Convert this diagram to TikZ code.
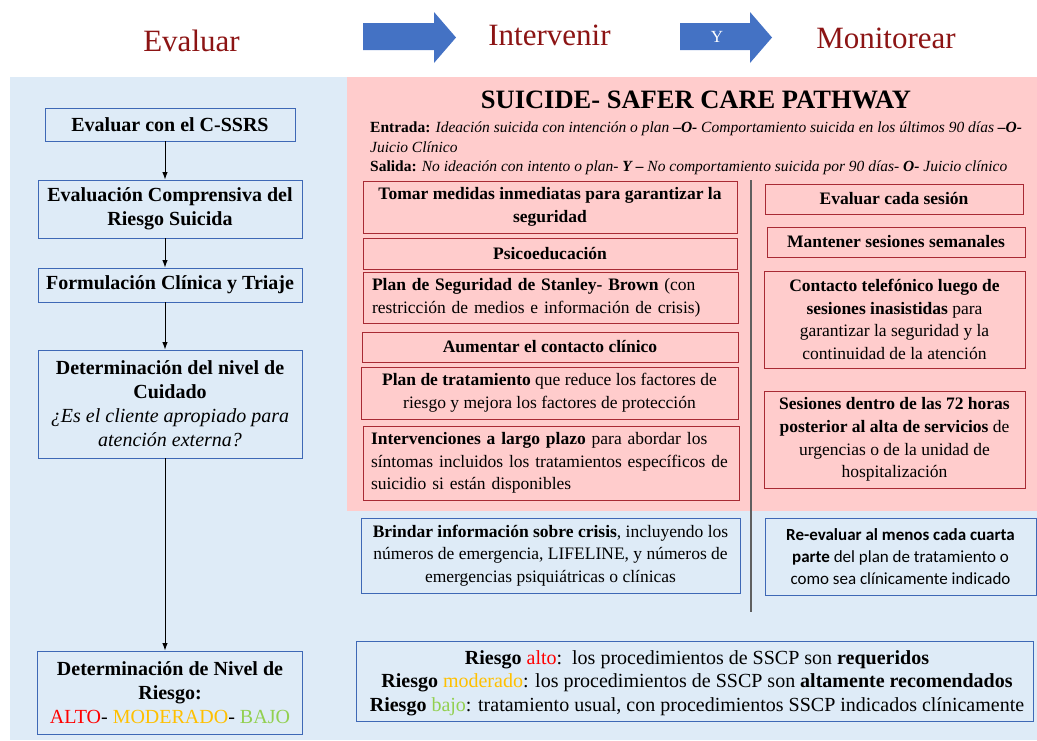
\documentclass[tikz,border=0pt]{standalone}
\usepackage{fontspec}
\setmainfont{Liberation Serif}
\newfontfamily\calibrifont{Carlito}
\usetikzlibrary{arrows.meta}
\definecolor{bgblue}{RGB}{222,235,247}
\definecolor{bgpink}{RGB}{255,204,204}
\definecolor{boxblue}{RGB}{62,104,182}
\definecolor{boxred}{RGB}{168,42,52}
\definecolor{headred}{RGB}{140,20,20}
\definecolor{arrowblue}{RGB}{68,114,196}
\definecolor{altored}{RGB}{255,0,0}
\definecolor{modgold}{RGB}{255,192,0}
\definecolor{bajogreen}{RGB}{146,208,80}
\definecolor{divgray}{RGB}{95,95,95}

\begin{document}
\begin{tikzpicture}[x=1pt,y=-1pt,
  headtext/.style={font=\fontsize{31}{36}\selectfont, text=headred, inner sep=0pt},
  leftbox/.style={draw=boxblue, fill=bgblue, line width=0.9pt, align=center, inner sep=0pt,
    font=\fontsize{20}{24}\selectfont},
  pinkbox/.style={draw=boxred, fill=bgpink, line width=0.9pt, align=center, inner sep=0pt,
    font=\fontsize{17.5}{22.7}\selectfont},
  bluebox/.style={draw=boxblue, fill=bgblue, line width=0.9pt, align=center, inner sep=0pt,
    font=\fontsize{17.5}{22.5}\selectfont},
  flow/.style={-{Latex[length=7.5pt,width=5.5pt]}, line width=1pt}]
\useasboundingbox (0,0) rectangle (1037,740);
% fondos
\fill [bgblue] (10,77) rectangle (1037,740);
\fill [bgpink] (347,77) rectangle (1037,511);
% encabezado
\node [headtext] (evalhead) at (191.5,41) {Evaluar};
\node [headtext] (intervhead) at (549.5,35) {Intervenir};
\node [headtext] (monhead) at (886,38) {Monitorear};
\fill [arrowblue] (363,23) -- (434,23) -- (434,12) -- (456,37.5) -- (434,63) -- (434,50) -- (363,50) -- cycle;
\fill [arrowblue] (680,23) -- (750,23) -- (750,12) -- (772,37.5) -- (750,63) -- (750,50) -- (680,50) -- cycle;
\node [text=white, font=\fontsize{17}{20}\selectfont, inner sep=0pt] (ytext) at (717,37) {Y};
% titulo
\node [font=\bfseries\fontsize{26.5}{30}\selectfont, inner sep=0pt] (title) at (696,100) {SUICIDE- SAFER CARE PATHWAY};
\node [anchor=north west, align=left, inner sep=0pt, font=\fontsize{15.5}{19.5}\selectfont] (entrada) at (370,122)
  {\textbf{Entrada:} \textit{Ideación suicida con intención o plan \textbf{–O-} Comportamiento suicida en los últimos 90 días \textbf{–O-}}\\
   \textit{Juicio Clínico}\\
   \textbf{Salida:} \textit{No ideación con intento o plan- \textbf{Y –} No comportamiento suicida por 90 días- \textbf{O-} Juicio clínico}};
% columna evaluar
\node [leftbox, minimum width=250pt, minimum height=33pt] (cssrs) at (170,124.5) {\textbf{Evaluar con el C-SSRS}};
\node [leftbox, minimum width=264pt, minimum height=58pt] (comp) at (170,209) {\textbf{Evaluación Comprensiva del}\\ \textbf{Riesgo Suicida}};
\node [leftbox, minimum width=264pt, minimum height=34pt] (triaje) at (170,285) {\textbf{Formulación Clínica y Triaje}};
\node [leftbox, minimum width=264pt, minimum height=108pt] (cuidado) at (170,404)
  {\textbf{Determinación del nivel de}\\ \textbf{Cuidado}\\ \textit{¿Es el cliente apropiado para}\\ \textit{atención externa?}};
\node [leftbox, minimum width=265pt, minimum height=83pt] (riesgo) at (170,692.5)
  {\textbf{Determinación de Nivel de}\\ \textbf{Riesgo:}\\ \textcolor{altored}{ALTO}- \textcolor{modgold}{MODERADO}- \textcolor{bajogreen}{BAJO}};
\draw [flow] ([xshift=-5pt]cssrs.south) -- ([xshift=-5pt]comp.north);
\draw [flow] ([xshift=-5pt]comp.south) -- ([xshift=-5pt]triaje.north);
\draw [flow] ([xshift=-5pt]triaje.south) -- ([xshift=-5pt]cuidado.north);
\draw [flow] ([xshift=-5pt]cuidado.south) -- ([xshift=-5pt]riesgo.north);
% columna intervenir
\node [pinkbox, minimum width=374pt, minimum height=52pt] (seguridad) at (550,207) {\textbf{Tomar medidas inmediatas para garantizar la}\\ \textbf{seguridad}};
\node [pinkbox, minimum width=374pt, minimum height=31pt] (psico) at (550,253.5) {\textbf{Psicoeducación}};
\node [pinkbox, minimum width=375pt, minimum height=51pt, text width=357pt, align=left] (stanley) at (550.5,297.5)
  {\textbf{Plan de Seguridad de Stanley- Brown} (con\\ restricción de medios e información de crisis)};
\node [pinkbox, minimum width=376pt, minimum height=30pt] (contacto) at (550,347) {\textbf{Aumentar el contacto clínico}};
\node [pinkbox, minimum width=377pt, minimum height=52pt] (tratamiento) at (549.5,393)
  {\textbf{Plan de tratamiento} que reduce los factores de\\ riesgo y mejora los factores de protección};
\node [pinkbox, minimum width=376pt, minimum height=74pt, text width=360pt, align=left] (largo) at (551,463)
  {\textbf{Intervenciones a largo plazo} para abordar los\\ síntomas incluidos los tratamientos específicos de\\ suicidio si están disponibles};
\node [bluebox, minimum width=379pt, minimum height=75pt] (crisis) at (550.5,555.5)
  {\textbf{Brindar información sobre crisis}, incluyendo los\\ números de emergencia, LIFELINE, y números de\\ emergencias psiquiátricas o clínicas};
% columna monitorear
\node [pinkbox, minimum width=258pt, minimum height=30pt] (sesion) at (894,199) {\textbf{Evaluar cada sesión}};
\node [pinkbox, minimum width=258pt, minimum height=30pt] (semanal) at (896,242) {\textbf{Mantener sesiones semanales}};
\node [pinkbox, minimum width=261pt, minimum height=97pt] (telefono) at (894.5,319.5)
  {\textbf{Contacto telefónico luego de}\\ \textbf{sesiones inasistidas} para\\ garantizar la seguridad y la\\ continuidad de la atención};
\node [pinkbox, minimum width=261pt, minimum height=97pt] (alta) at (894.5,439.5)
  {\textbf{Sesiones dentro de las 72 horas}\\ \textbf{posterior al alta de servicios} de\\ urgencias o de la unidad de\\ hospitalización};
\node [bluebox, minimum width=271pt, minimum height=77pt, font=\calibrifont\fontsize{17}{22}\selectfont] (reeval) at (900.5,556.5)
  {\textbf{Re-evaluar al menos cada cuarta}\\ \textbf{parte} del plan de tratamiento o\\ como sea clínicamente indicado};
\coordinate (divtop) at (751,180);
\coordinate (divbot) at (751,612);
\draw [divgray, line width=1.3pt] (divtop) -- (divbot);
% niveles de riesgo
\node [bluebox, minimum width=677pt, minimum height=80pt] (niveles) at (694.5,681) {};
\node [font=\fontsize{20}{23.5}\selectfont, align=center, inner sep=0pt] (nivtext) at (697,683)
  {\textbf{Riesgo} \textcolor{altored}{alto}:\ \ los procedimientos de SSCP son \textbf{requeridos}\\
   \textbf{Riesgo} \textcolor{modgold}{moderado}: los procedimientos de SSCP son \textbf{altamente recomendados}\\
   \textbf{Riesgo} \textcolor{bajogreen}{bajo}: tratamiento usual, con procedimientos SSCP indicados clínicamente};
\end{tikzpicture}
\end{document}
